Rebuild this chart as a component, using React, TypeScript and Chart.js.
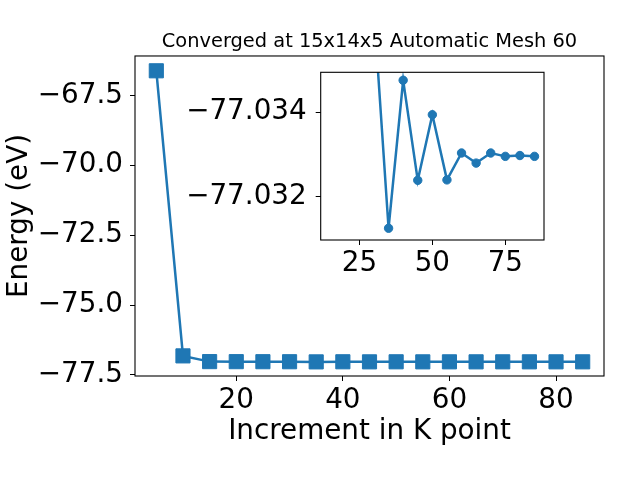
import { useEffect, useRef } from 'react';
import { Chart, registerables } from 'chart.js';

Chart.register(...registerables);

// ---- data ----
const kPoints = [5, 10, 15, 20, 25, 30, 35, 40, 45, 50, 55, 60, 65, 70, 75, 80, 85];
const energies = [
  -66.62, -76.82, -77.025, -77.027, -77.0285, -77.0296, -77.03476, -77.03124, -77.03362,
  -77.03206, -77.03361, -77.03297, -77.03321, -77.03297, -77.03305, -77.03303, -77.03305,
];
const titleText = 'Converged at 15x14x5 Automatic Mesh 60';
const xTitle = 'Increment in K point';
const yTitle = 'Energy (eV)';
const mainXTicks = [20, 40, 60, 80];
const mainYTicks = [-77.5, -75.0, -72.5, -70.0, -67.5];
const insetXTicks = [25, 50, 75];
const insetYTicks = [-77.034, -77.032];
const insetYTickLabels = ['\u221277.032', '\u221277.034'];

const FONT = 'DejaVu Sans';
const BLUE = '#1f77b4';

const framePlugin = {
  id: 'frame',
  beforeDraw(chart: any, _args: any, opts: any) {
    const { ctx, chartArea: a } = chart;
    ctx.save();
    ctx.fillStyle = '#ffffff';
    if (opts && opts.full) ctx.fillRect(0, 0, chart.width, chart.height);
    else ctx.fillRect(a.left, a.top, a.right - a.left, a.bottom - a.top);
    ctx.restore();
  },
  afterDraw(chart: any) {
    const { ctx, chartArea: a } = chart;
    ctx.save();
    ctx.strokeStyle = '#000000';
    ctx.lineWidth = 1.1;
    ctx.strokeRect(a.left, a.top, a.right - a.left, a.bottom - a.top);
    ctx.restore();
  },
};

const minusFmt = (v: number, d: number) => v.toFixed(d).replace('-', '\u2212');

const noPad = (s: any) => {
  s.paddingTop = 0;
  s.paddingBottom = 0;
  s.paddingLeft = 0;
  s.paddingRight = 0;
};

export default function App() {
  const mainRef = useRef<HTMLCanvasElement>(null);
  const insetRef = useRef<HTMLCanvasElement>(null);

  useEffect(() => {
    const tickFont = { family: FONT, size: 27.8 };
    const points = kPoints.map((x, i) => ({ x, y: energies[i] }));

    const main = new Chart(mainRef.current as HTMLCanvasElement, {
      type: 'line',
      data: {
        datasets: [
          {
            data: points,
            borderColor: BLUE,
            backgroundColor: BLUE,
            borderWidth: 2.5,
            pointStyle: 'rect',
            pointRadius: 10,
            pointBorderWidth: 1,
            pointBackgroundColor: BLUE,
            pointBorderColor: BLUE,
            tension: 0,
          },
        ],
      },
      options: {
        animation: false,
        responsive: false,
        events: [],
        layout: { padding: { left: 0, right: 36, top: 0, bottom: 0 } },
        plugins: {
          legend: { display: false },
          tooltip: { enabled: false },
          frame: { full: true },
          title: {
            display: true,
            fullSize: false,
            text: titleText,
            color: '#000',
            font: { family: FONT, size: 19.4, weight: 'normal' },
            padding: { top: 30.4, bottom: 2.3 },
          },
        } as any,
        scales: {
          x: {
            type: 'linear',
            min: 1,
            max: 89,
            afterFit: (s: any) => {
              s.height = 104;
              noPad(s);
            },
            afterBuildTicks: (s: any) => {
              s.ticks = mainXTicks.map((v) => ({ value: v }));
            },
            grid: { drawOnChartArea: false, drawTicks: true, tickLength: 5, color: '#000' },
            border: { display: false },
            ticks: {
              color: '#000',
              font: tickFont,
              padding: 3,
              maxRotation: 0,
              autoSkip: false,
              callback: (v: any) => String(v),
            },
            title: {
              display: true,
              text: xTitle,
              color: '#000',
              font: { family: FONT, size: 27.8 },
              padding: { top: 0, bottom: 32 },
            },
          },
          y: {
            type: 'linear',
            min: -77.54,
            max: -66.09,
            afterFit: (s: any) => {
              s.width = 135;
              noPad(s);
            },
            afterBuildTicks: (s: any) => {
              s.ticks = mainYTicks.map((v) => ({ value: v }));
            },
            grid: { drawOnChartArea: false, drawTicks: true, tickLength: 5, color: '#000' },
            border: { display: false },
            ticks: {
              color: '#000',
              font: tickFont,
              padding: 7,
              autoSkip: false,
              callback: (v: any) => minusFmt(Number(v), 1),
            },
            title: {
              display: true,
              text: yTitle,
              color: '#000',
              font: { family: FONT, size: 27.8 },
              padding: { top: 3, bottom: 0 },
            },
          },
        },
      },
      plugins: [framePlugin],
    } as any);

    const inset = new Chart(insetRef.current as HTMLCanvasElement, {
      type: 'line',
      data: {
        datasets: [
          {
            data: points,
            borderColor: BLUE,
            backgroundColor: BLUE,
            borderWidth: 2.5,
            pointStyle: 'circle',
            pointRadius: 4.2,
            pointBorderWidth: 1,
            pointBackgroundColor: BLUE,
            pointBorderColor: BLUE,
            tension: 0,
            clip: 0,
          },
        ],
      },
      options: {
        animation: false,
        responsive: false,
        events: [],
        layout: { padding: { left: 0, right: 16, top: 12.3, bottom: 0 } },
        plugins: {
          legend: { display: false },
          tooltip: { enabled: false },
          frame: { full: false },
        } as any,
        scales: {
          x: {
            type: 'linear',
            min: 11.75,
            max: 88.25,
            afterFit: (s: any) => {
              s.height = 60;
              noPad(s);
            },
            afterBuildTicks: (s: any) => {
              s.ticks = insetXTicks.map((v) => ({ value: v }));
            },
            grid: { drawOnChartArea: false, drawTicks: true, tickLength: 5, color: '#000' },
            border: { display: false },
            ticks: {
              color: '#000',
              font: tickFont,
              padding: 2,
              maxRotation: 0,
              autoSkip: false,
              callback: (v: any) => String(v),
            },
          },
          y: {
            type: 'linear',
            min: -77.03504,
            max: -77.03105,
            afterFit: (s: any) => {
              s.width = 160.7;
              noPad(s);
            },
            afterBuildTicks: (s: any) => {
              s.ticks = insetYTicks.map((v) => ({ value: v }));
            },
            grid: { drawOnChartArea: false, drawTicks: true, tickLength: 5, color: '#000' },
            border: { display: false },
            ticks: {
              color: '#000',
              font: tickFont,
              padding: 9,
              autoSkip: false,
              callback: (_v: any, i: number) => insetYTickLabels[i],
            },
          },
        },
      },
      plugins: [framePlugin],
    } as any);

    return () => {
      main.destroy();
      inset.destroy();
    };
  }, []);

  return (
    <div style={{ position: 'fixed', left: 0, top: 0, width: 640, height: 480, background: '#fff' }}>
      <canvas ref={mainRef} width={640} height={480} style={{ position: 'absolute', left: 0, top: 0, width: 640, height: 480 }} />
      <canvas ref={insetRef} width={400} height={240} style={{ position: 'absolute', left: 160, top: 60, width: 400, height: 240 }} />
    </div>
  );
}
